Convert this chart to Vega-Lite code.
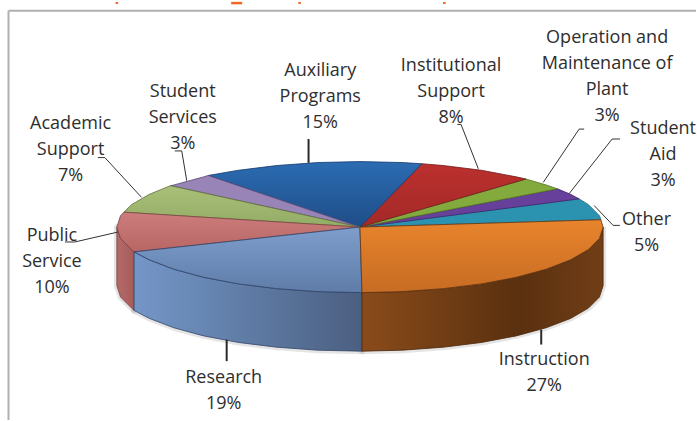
{
  "$schema": "https://vega.github.io/schema/vega-lite/v6.json",
  "width": 697,
  "height": 421,
  "padding": 0,
  "autosize": {"type": "fit", "contains": "padding"},
  "background": "#ffffff",
  "view": {"stroke": null},
  "datasets": {
    "faces": [
      {"face":"Instruction wall","seq":1,"x":243.5,"y":0},{"face":"Instruction wall","seq":2,"x":239.8,"y":11.5},{"face":"Instruction wall","seq":3,"x":228.8,"y":22.6},{"face":"Instruction wall","seq":4,"x":210.9,"y":33},{"face":"Instruction wall","seq":5,"x":186.5,"y":42.4},{"face":"Instruction wall","seq":6,"x":156.5,"y":50.6},{"face":"Instruction wall","seq":7,"x":121.8,"y":57.2},{"face":"Instruction wall","seq":8,"x":83.3,"y":62},{"face":"Instruction wall","seq":9,"x":42.3,"y":65},{"face":"Instruction wall","seq":10,"x":2,"y":66},{"face":"Instruction wall","seq":11,"x":2,"y":125},{"face":"Instruction wall","seq":12,"x":42.3,"y":124},{"face":"Instruction wall","seq":13,"x":83.3,"y":121},{"face":"Instruction wall","seq":14,"x":121.8,"y":116.2},{"face":"Instruction wall","seq":15,"x":156.5,"y":109.6},{"face":"Instruction wall","seq":16,"x":186.5,"y":101.4},{"face":"Instruction wall","seq":17,"x":210.9,"y":92},{"face":"Instruction wall","seq":18,"x":228.8,"y":81.6},{"face":"Instruction wall","seq":19,"x":239.8,"y":70.5},{"face":"Instruction wall","seq":20,"x":243.5,"y":59},{"face":"Instruction wall","seq":21,"x":243.5,"y":0},

      {"face":"Research wall","seq":1,"x":2,"y":66},{"face":"Research wall","seq":2,"x":-42.3,"y":65},{"face":"Research wall","seq":3,"x":-83.3,"y":62},{"face":"Research wall","seq":4,"x":-121.8,"y":57.2},{"face":"Research wall","seq":5,"x":-156.5,"y":50.6},{"face":"Research wall","seq":6,"x":-186.5,"y":42.4},{"face":"Research wall","seq":7,"x":-210.9,"y":33},{"face":"Research wall","seq":8,"x":-226.2,"y":25},{"face":"Research wall","seq":9,"x":-226.2,"y":84},{"face":"Research wall","seq":10,"x":-210.9,"y":92},{"face":"Research wall","seq":11,"x":-186.5,"y":101.4},{"face":"Research wall","seq":12,"x":-156.5,"y":109.6},{"face":"Research wall","seq":13,"x":-121.8,"y":116.2},{"face":"Research wall","seq":14,"x":-83.3,"y":121},{"face":"Research wall","seq":15,"x":-42.3,"y":124},{"face":"Research wall","seq":16,"x":2,"y":125},{"face":"Research wall","seq":17,"x":2,"y":66},

      {"face":"Public wall","seq":1,"x":-226.2,"y":25},{"face":"Public wall","seq":2,"x":-228.8,"y":22.6},{"face":"Public wall","seq":3,"x":-239.8,"y":11.5},{"face":"Public wall","seq":4,"x":-243.5,"y":0},{"face":"Public wall","seq":5,"x":-243.5,"y":59},{"face":"Public wall","seq":6,"x":-239.8,"y":70.5},{"face":"Public wall","seq":7,"x":-228.8,"y":81.6},{"face":"Public wall","seq":8,"x":-226.2,"y":84},{"face":"Public wall","seq":9,"x":-226.2,"y":25},

      {"face":"Instruction","seq":1,"x":0,"y":0},{"face":"Instruction","seq":2,"x":241.2,"y":-7.4},{"face":"Instruction","seq":3,"x":243.5,"y":0},{"face":"Instruction","seq":4,"x":239.8,"y":11.5},{"face":"Instruction","seq":5,"x":228.8,"y":22.6},{"face":"Instruction","seq":6,"x":210.9,"y":33},{"face":"Instruction","seq":7,"x":186.5,"y":42.4},{"face":"Instruction","seq":8,"x":156.5,"y":50.6},{"face":"Instruction","seq":9,"x":121.8,"y":57.2},{"face":"Instruction","seq":10,"x":83.3,"y":62},{"face":"Instruction","seq":11,"x":42.3,"y":65},{"face":"Instruction","seq":12,"x":2,"y":66},{"face":"Instruction","seq":13,"x":0,"y":0},

      {"face":"Research","seq":1,"x":0,"y":0},{"face":"Research","seq":2,"x":2,"y":66},{"face":"Research","seq":3,"x":-42.3,"y":65},{"face":"Research","seq":4,"x":-83.3,"y":62},{"face":"Research","seq":5,"x":-121.8,"y":57.2},{"face":"Research","seq":6,"x":-156.5,"y":50.6},{"face":"Research","seq":7,"x":-186.5,"y":42.4},{"face":"Research","seq":8,"x":-210.9,"y":33},{"face":"Research","seq":9,"x":-226.2,"y":25},{"face":"Research","seq":10,"x":0,"y":0},

      {"face":"Public Service","seq":1,"x":0,"y":0},{"face":"Public Service","seq":2,"x":-226.2,"y":25},{"face":"Public Service","seq":3,"x":-228.8,"y":22.6},{"face":"Public Service","seq":4,"x":-239.8,"y":11.5},{"face":"Public Service","seq":5,"x":-243.5,"y":0},{"face":"Public Service","seq":6,"x":-239.8,"y":-11.5},{"face":"Public Service","seq":7,"x":-236.5,"y":-15},{"face":"Public Service","seq":8,"x":0,"y":0},

      {"face":"Academic Support","seq":1,"x":0,"y":0},{"face":"Academic Support","seq":2,"x":-236.5,"y":-15},{"face":"Academic Support","seq":3,"x":-228.8,"y":-22.6},{"face":"Academic Support","seq":4,"x":-210.9,"y":-33},{"face":"Academic Support","seq":5,"x":-189.8,"y":-41.7},{"face":"Academic Support","seq":6,"x":0,"y":0},

      {"face":"Student Services","seq":1,"x":0,"y":0},{"face":"Student Services","seq":2,"x":-189.8,"y":-41.7},{"face":"Student Services","seq":3,"x":-186.5,"y":-42.4},{"face":"Student Services","seq":4,"x":-156.5,"y":-50.6},{"face":"Student Services","seq":5,"x":-152,"y":-52},{"face":"Student Services","seq":6,"x":0,"y":0},

      {"face":"Auxiliary Programs","seq":1,"x":0,"y":0},{"face":"Auxiliary Programs","seq":2,"x":-152,"y":-52},{"face":"Auxiliary Programs","seq":3,"x":-121.8,"y":-57.2},{"face":"Auxiliary Programs","seq":4,"x":-83.3,"y":-62},{"face":"Auxiliary Programs","seq":5,"x":-42.3,"y":-65},{"face":"Auxiliary Programs","seq":6,"x":0,"y":-66},{"face":"Auxiliary Programs","seq":7,"x":42.3,"y":-65},{"face":"Auxiliary Programs","seq":8,"x":62,"y":-63.8},{"face":"Auxiliary Programs","seq":9,"x":0,"y":0},

      {"face":"Institutional Support","seq":1,"x":0,"y":0},{"face":"Institutional Support","seq":2,"x":62,"y":-63.8},{"face":"Institutional Support","seq":3,"x":83.3,"y":-62},{"face":"Institutional Support","seq":4,"x":121.8,"y":-57.2},{"face":"Institutional Support","seq":5,"x":156.5,"y":-50.6},{"face":"Institutional Support","seq":6,"x":166.2,"y":-48.4},{"face":"Institutional Support","seq":7,"x":0,"y":0},

      {"face":"Operation and Maintenance","seq":1,"x":0,"y":0},{"face":"Operation and Maintenance","seq":2,"x":166.2,"y":-48.4},{"face":"Operation and Maintenance","seq":3,"x":186.5,"y":-42.4},{"face":"Operation and Maintenance","seq":4,"x":197.8,"y":-38.5},{"face":"Operation and Maintenance","seq":5,"x":0,"y":0},

      {"face":"Student Aid","seq":1,"x":0,"y":0},{"face":"Student Aid","seq":2,"x":197.8,"y":-38.5},{"face":"Student Aid","seq":3,"x":210.9,"y":-33},{"face":"Student Aid","seq":4,"x":219.5,"y":-28.4},{"face":"Student Aid","seq":5,"x":0,"y":0},

      {"face":"Other","seq":1,"x":0,"y":0},{"face":"Other","seq":2,"x":219.5,"y":-28.4},{"face":"Other","seq":3,"x":228.8,"y":-22.6},{"face":"Other","seq":4,"x":239.8,"y":-11.5},{"face":"Other","seq":5,"x":241.2,"y":-7.4},{"face":"Other","seq":6,"x":0,"y":0}
    ],
    "leaders": [
      {"name":"Student Services","seq":1,"x":-185.5,"y":-76.7},{"name":"Student Services","seq":2,"x":-178.5,"y":-76.7},{"name":"Student Services","seq":3,"x":-173.5,"y":-46.7},
      {"name":"Academic Support","seq":1,"x":-262.5,"y":-70},{"name":"Academic Support","seq":2,"x":-255.5,"y":-70},{"name":"Academic Support","seq":3,"x":-218.8,"y":-30},
      {"name":"Public Service","seq":1,"x":-295.5,"y":15},{"name":"Public Service","seq":2,"x":-285.5,"y":15},{"name":"Public Service","seq":3,"x":-242.5,"y":5},
      {"name":"Other","seq":1,"x":234.5,"y":-21.7},{"name":"Other","seq":2,"x":253.5,"y":-1.7},{"name":"Other","seq":3,"x":260.2,"y":-1.7},
      {"name":"Student Aid","seq":1,"x":209.5,"y":-33.7},{"name":"Student Aid","seq":2,"x":252.5,"y":-88.7},{"name":"Student Aid","seq":3,"x":260.5,"y":-88.7},
      {"name":"Operation and Maintenance","seq":1,"x":183.5,"y":-45},{"name":"Operation and Maintenance","seq":2,"x":219.5,"y":-98.7},{"name":"Operation and Maintenance","seq":3,"x":224.5,"y":-98.7},
      {"name":"Institutional Support","seq":1,"x":118.5,"y":-58.7},{"name":"Institutional Support","seq":2,"x":101.2,"y":-103.4},{"name":"Institutional Support","seq":3,"x":97.5,"y":-103.4}
    ],
    "ticks": [
      {"x":-51.5,"y":-88.7,"y2":-64.7},
      {"x":-133.5,"y":113.3,"y2":135},
      {"x":181.5,"y":103.3,"y2":118.3}
    ],
    "labels": [
      {"text":"Instruction\n27%","x":184.5,"y":133.6},
      {"text":"Research\n19%","x":-136.5,"y":152.3},
      {"text":"Public\nService\n10%","x":-308.5,"y":9.3},
      {"text":"Academic\nSupport\n7%","x":-289.8,"y":-104},
      {"text":"Student\nServices\n3%","x":-177.5,"y":-136},
      {"text":"Auxiliary\nPrograms\n15%","x":-39.8,"y":-157.4},
      {"text":"Institutional\nSupport\n8%","x":91.2,"y":-162.7},
      {"text":"Operation and\nMaintenance of\nPlant\n3%","x":247.5,"y":-190.7},
      {"text":"Student\nAid\n3%","x":303.5,"y":-98.7},
      {"text":"Other\n5%","x":287,"y":-7.2}
    ],
    "frame": [
      {"x":-352,"x2":336.5,"y":-218,"y2":-218},
      {"x":-352,"x2":-352,"y":-218,"y2":194.3}
    ],
    "headline": [
      {"x":-243.5,"x2":-243.5,"y":-226.7,"y2":-224.7},
      {"x":-129,"x2":-118,"y":-225.6,"y2":-225.6},
      {"x":-60.5,"x2":-60.5,"y":-226.7,"y2":-224.7},
      {"x":84.5,"x2":84.5,"y":-226.7,"y2":-224.7}
    ]
  },
  "data": {"name": "faces"},
  "encoding": {
    "x": {"field": "x", "type": "quantitative", "axis": null, "scale": {"domain": [-360.5, 336.5], "nice": false, "zero": false}},
    "y": {"field": "y", "type": "quantitative", "axis": null, "scale": {"domain": [-226.7, 194.3], "reverse": true, "nice": false, "zero": false}},
    "order": {"field": "seq", "type": "quantitative"}
  },
  "layer": [
    {"transform": [{"filter": "test(/ wall$/, datum.face)"}],
     "mark": {"type": "line", "stroke": "#8a8a8a", "strokeOpacity": 0.22, "strokeWidth": 6, "strokeJoin": "round"},
     "encoding": {"detail": {"field": "face", "type": "nominal"}}},
    {"transform": [{"filter": "datum.face === 'Public wall'"}],
     "mark": {"type": "line", "strokeWidth": 0.8, "stroke": "#7a4442", "fill": {"x1":0,"y1":0,"x2":1,"y2":0,"gradient":"linear","stops":[{"offset":0,"color":"#b26a68"},{"offset":1,"color":"#a85c5a"}]}}},
    {"transform": [{"filter": "datum.face === 'Research wall'"}],
     "mark": {"type": "line", "strokeWidth": 0.8, "stroke": "#34466a", "fill": {"x1":0,"y1":0,"x2":1,"y2":0,"gradient":"linear","stops":[{"offset":0,"color":"#7496c8"},{"offset":0.35,"color":"#6584b0"},{"offset":1,"color":"#4b5f80"}]}}},
    {"transform": [{"filter": "datum.face === 'Instruction wall'"}],
     "mark": {"type": "line", "strokeWidth": 0.8, "stroke": "#4a280c", "fill": {"x1":0,"y1":0,"x2":1,"y2":0,"gradient":"linear","stops":[{"offset":0,"color":"#8a4b1a"},{"offset":0.65,"color":"#5a300f"},{"offset":1,"color":"#713e16"}]}}},

    {"transform": [{"filter": "datum.face === 'Other'"}],
     "mark": {"type": "line", "strokeWidth": 0.8, "stroke": "#1f6478", "fill": "#2b93b0"}},
    {"transform": [{"filter": "datum.face === 'Student Aid'"}],
     "mark": {"type": "line", "strokeWidth": 0.8, "stroke": "#3f2468", "fill": "#67409c"}},
    {"transform": [{"filter": "datum.face === 'Operation and Maintenance'"}],
     "mark": {"type": "line", "strokeWidth": 0.8, "stroke": "#56741f", "fill": "#82aa3c"}},
    {"transform": [{"filter": "datum.face === 'Institutional Support'"}],
     "mark": {"type": "line", "strokeWidth": 0.8, "stroke": "#6e1c1a", "fill": {"x1":0,"y1":0,"x2":0,"y2":1,"gradient":"linear","stops":[{"offset":0,"color":"#bb302e"},{"offset":1,"color":"#a32927"}]}}},
    {"transform": [{"filter": "datum.face === 'Auxiliary Programs'"}],
     "mark": {"type": "line", "strokeWidth": 0.8, "stroke": "#17396a", "fill": {"x1":0,"y1":0,"x2":0,"y2":1,"gradient":"linear","stops":[{"offset":0,"color":"#2b6cb2"},{"offset":1,"color":"#1f4d88"}]}}},
    {"transform": [{"filter": "datum.face === 'Student Services'"}],
     "mark": {"type": "line", "strokeWidth": 0.8, "stroke": "#5c4a78", "fill": "#9884b6"}},
    {"transform": [{"filter": "datum.face === 'Academic Support'"}],
     "mark": {"type": "line", "strokeWidth": 0.8, "stroke": "#5f6f3a", "fill": {"x1":0,"y1":0,"x2":0,"y2":1,"gradient":"linear","stops":[{"offset":0,"color":"#a9c078"},{"offset":1,"color":"#92ab66"}]}}},
    {"transform": [{"filter": "datum.face === 'Public Service'"}],
     "mark": {"type": "line", "strokeWidth": 0.8, "stroke": "#7a4442", "fill": {"x1":0,"y1":0,"x2":0,"y2":1,"gradient":"linear","stops":[{"offset":0,"color":"#cb7d7c"},{"offset":1,"color":"#b86664"}]}}},
    {"transform": [{"filter": "datum.face === 'Research'"}],
     "mark": {"type": "line", "strokeWidth": 0.8, "stroke": "#2e4268", "fill": {"x1":0,"y1":0,"x2":0,"y2":1,"gradient":"linear","stops":[{"offset":0,"color":"#7f9dcc"},{"offset":1,"color":"#5f7ca8"}]}}},
    {"transform": [{"filter": "datum.face === 'Instruction'"}],
     "mark": {"type": "line", "strokeWidth": 0.8, "stroke": "#5e3410", "fill": {"x1":0,"y1":0,"x2":0,"y2":1,"gradient":"linear","stops":[{"offset":0,"color":"#e8842c"},{"offset":1,"color":"#c76c24"}]}}},

    {"data": {"name": "leaders"},
     "mark": {"type": "line", "stroke": "#333333", "strokeWidth": 1},
     "encoding": {"detail": {"field": "name", "type": "nominal"}}},
    {"data": {"name": "ticks"},
     "mark": {"type": "rule", "stroke": "#2a2a2a", "strokeWidth": 2},
     "encoding": {"y2": {"field": "y2"}, "order": null}},
    {"data": {"name": "frame"},
     "mark": {"type": "rule", "stroke": "#b0b0b0", "strokeWidth": 2},
     "encoding": {"x2": {"field": "x2"}, "y2": {"field": "y2"}, "order": null}},
    {"data": {"name": "headline"},
     "mark": {"type": "rule", "stroke": "#f26522", "strokeWidth": 2.5},
     "encoding": {"x2": {"field": "x2"}, "y2": {"field": "y2"}, "order": null}},
    {"data": {"name": "labels"},
     "mark": {"type": "text", "font": "Open Sans", "fontSize": 18, "lineBreak": "\n", "lineHeight": 26, "align": "center", "baseline": "middle", "color": "#2e2e2e"},
     "encoding": {"text": {"field": "text", "type": "nominal"}, "order": null}}
  ]
}
